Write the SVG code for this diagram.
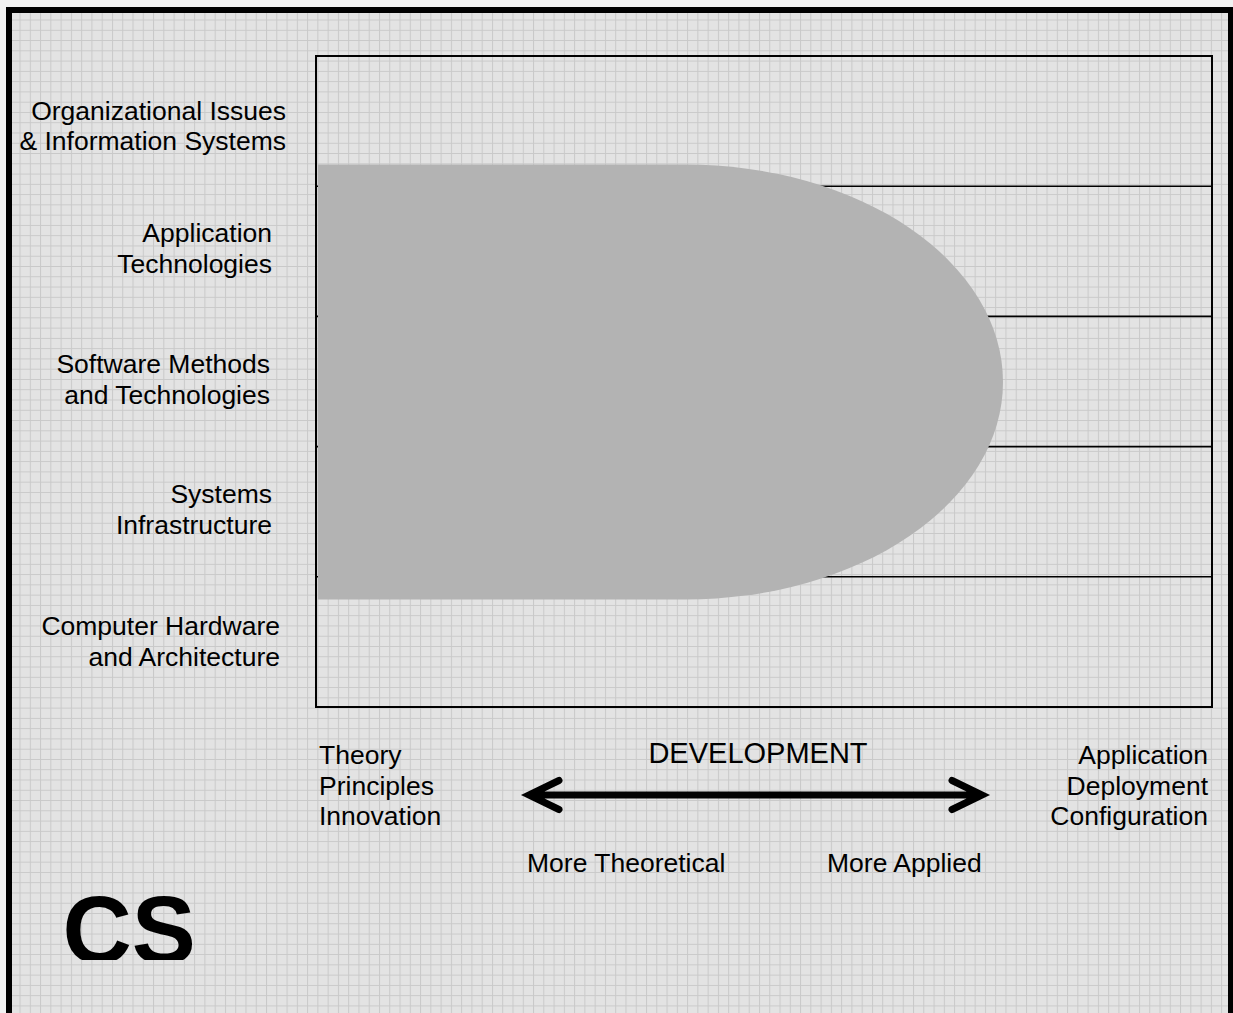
<svg xmlns="http://www.w3.org/2000/svg" width="1233" height="1013" viewBox="0 0 1233 1013">
<defs>
<pattern id="grid" patternUnits="userSpaceOnUse" x="-1" y="-1" width="10.27" height="10.27">
<rect width="10.27" height="10.27" fill="#e3e3e3"/>
<path d="M0.5 0 V10.27 M0 0.5 H10.27" stroke="#c9c9c9" stroke-width="1" fill="none"/>
</pattern>
<clipPath id="csclip"><rect x="0" y="0" width="1233" height="960"/></clipPath>
</defs>
<style>
.lbl{font-family:"Liberation Sans",Arial,sans-serif;font-size:26.5px;fill:#000}
.r{text-anchor:end}
.line{stroke:#000;stroke-width:2;fill:none}
</style>
<rect width="1233" height="1013" fill="#f2f2f2"/>
<rect x="9" y="10" width="1222" height="1006" fill="url(#grid)" stroke="#000" stroke-width="6"/>
<g id="chart">
<rect x="316" y="56" width="896" height="651" class="line"/>
<path d="M316 186.2 H1212 M316 316.4 H1212 M316 446.6 H1212 M316 576.8 H1212" stroke="#000" stroke-width="1.6" fill="none"/>
<path d="M318 164.5 H685 A318 217.5 0 0 1 685 599.5 H318 Z" fill="#b3b3b3"/>
</g>
<g id="row-labels">
<text class="lbl r" x="286" y="120">Organizational Issues</text>
<text class="lbl r" x="286" y="150">&amp; Information Systems</text>
<text class="lbl r" x="272" y="242">Application</text>
<text class="lbl r" x="272" y="273">Technologies</text>
<text class="lbl r" x="270" y="373">Software Methods</text>
<text class="lbl r" x="270" y="404">and Technologies</text>
<text class="lbl r" x="272" y="503">Systems</text>
<text class="lbl r" x="272" y="534">Infrastructure</text>
<text class="lbl r" x="280" y="635">Computer Hardware</text>
<text class="lbl r" x="280" y="666">and Architecture</text>
</g>
<g id="axis-left">
<text class="lbl" x="319" y="764">Theory</text>
<text class="lbl" x="319" y="795">Principles</text>
<text class="lbl" x="319" y="825">Innovation</text>
</g>
<g id="axis-right">
<text class="lbl r" x="1208" y="764">Application</text>
<text class="lbl r" x="1208" y="795">Deployment</text>
<text class="lbl r" x="1208" y="825">Configuration</text>
</g>
<g id="development">
<text class="lbl" x="758" y="762.5" text-anchor="middle" style="font-size:29px">DEVELOPMENT</text>
<text class="lbl" x="527" y="872">More Theoretical</text>
<text class="lbl" x="827" y="872">More Applied</text>
</g>
<g id="connectors">
<path d="M530 795 H981 M559 780.5 L529 795 L559 809.5 M952 780.5 L982 795 L952 809.5" stroke="#000" stroke-width="7" stroke-linecap="round" stroke-linejoin="miter" fill="none"/>
</g>
<g id="cs-title" clip-path="url(#csclip)">
<text x="62.5" y="963" style="font-family:'Liberation Sans',Arial,sans-serif;font-weight:bold;font-size:96px;fill:#000">CS</text>
</g>
</svg>
